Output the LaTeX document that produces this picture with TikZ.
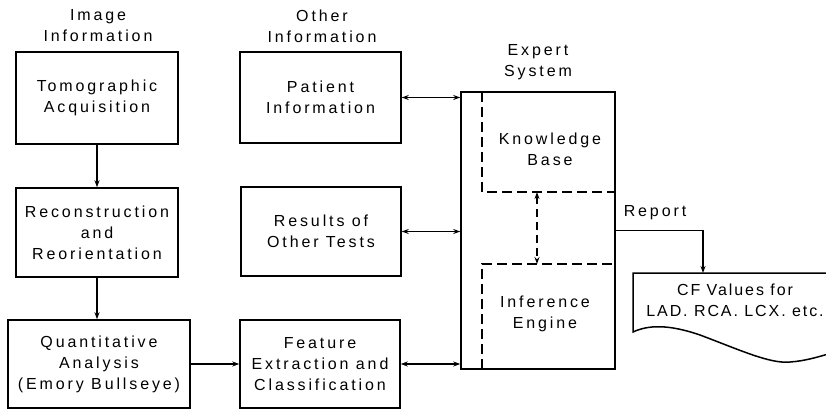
\documentclass[tikz,border=0pt]{standalone}
\usepackage{fontspec}
\setmainfont{Liberation Sans}[LetterSpace=18]
\usetikzlibrary{arrows.meta}
\begin{document}
\begin{tikzpicture}[x=1pt,y=-1pt,
  txt/.style={font=\fontsize{16}{21}\selectfont, align=center, inner sep=0pt},
  box/.style={txt, draw, line width=1.5pt},
  conn/.style={line width=1.5pt},
  tip/.style={conn, -{Stealth[length=7pt,width=5pt]}},
  both/.style={conn, {Stealth[length=7pt,width=5pt]}-{Stealth[length=7pt,width=5pt]}},
  dashline/.style={line width=1.5pt, dash pattern=on 10pt off 5pt},
  region/.style={inner sep=0pt, outer sep=0pt}
]
\useasboundingbox (0,0) rectangle (826,412);
\clip (0,0) rectangle (826,412);

% column headers
\node[txt] (hdrimg)  at (98,26)  {Image\\Information};
\node[txt] (hdroth)  at (322,26) {Other\\Information};
\node[txt] (hdrexp)  at (538,62) {Expert\\System};

% image processing chain
\node[box, minimum width=162pt, minimum height=92pt] (tomo)  at (97,98)    {Tomographic\\Acquisition};
\node[box, minimum width=162pt, minimum height=89pt] (recon) at (97,232.5) {Reconstruction\\and\\Reorientation};
\node[box, minimum width=182pt, minimum height=88pt] (quant) at (99,364)   {Quantitative\\Analysis\\(Emory Bullseye)};

% other information
\node[box, minimum width=161pt, minimum height=91pt] (patient) at (320.5,97.5) {Patient\\Information};
\node[box, minimum width=160pt, minimum height=89pt] (results) at (321,231.5)  {Results of\\Other Tests};
\node[box, minimum width=160pt, minimum height=88pt] (feature) at (320,364)    {Feature\\Extraction and\\Classification};

% expert system
\node[box, minimum width=154pt, minimum height=277pt] (expert) at (538,230.5) {};
\node[region, minimum width=133pt, minimum height=100pt] (kb) at (548.5,142)   {};
\node[region, minimum width=133pt, minimum height=105pt] (ie) at (548.5,316.5) {};
\draw[dashline] (kb.north west) -- (kb.south west) -- (kb.south east);
\draw[dashline] (ie.south west) -- (ie.north west) -- (ie.north east);
\node[txt] (kbtext) at (550,149) {Knowledge\\Base};
\node[txt] (ietext) at (545,314) {Inference\\Engine};
\coordinate (kbport) at (537,192);
\coordinate (ieport) at (537,264);
\draw[both, dash pattern=on 8pt off 5pt] (kbport) -- (ieport);

% output document
\coordinate (docin) at (703,273);
\draw[conn] (850,273) -- (633,273) -- (633,332)
  .. controls (648,325) and (668,324) .. (700,335)
  .. controls (740,350) and (770,364) .. (790,362)
  .. controls (805,361) and (818,357) .. (835,352);
\node[txt, font=\fontsize{16}{21}\selectfont\addfontfeature{LetterSpace=12}] (cf) at (735,300.5) {CF Values for\\LAD. RCA. LCX. etc.};
\node[txt] (report) at (655,213) {Report};

% connectors
\draw[tip] (tomo) -- (recon);
\draw[tip] (recon.south) -- (recon.south |- quant.north);
\draw[tip] (quant.east) -- (quant.east -| feature.west);
\draw[both] (patient.east) -- (patient.east -| expert.west);
\draw[both] (results.east) -- (results.east -| expert.west);
\draw[both] (feature.east) -- (feature.east -| expert.west);
\draw[tip] (expert.east) -| (docin);
\end{tikzpicture}
\end{document}
